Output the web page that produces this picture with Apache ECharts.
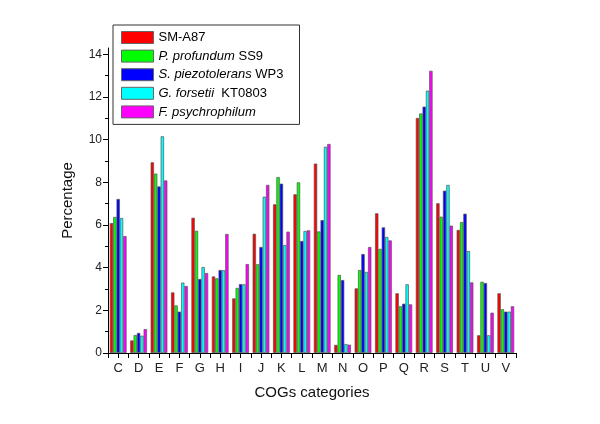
<!DOCTYPE html>
<html>
<head>
<meta charset="utf-8">
<script src="https://cdn.jsdelivr.net/npm/echarts@6/dist/echarts.min.js"></script>
<style>html,body{margin:0;padding:0;background:#fff}#c{width:600px;height:424px}</style>
</head>
<body>
<div id="c"></div>
<script>
var categories = ['C','D','E','F','G','H','I','J','K','L','M','N','O','P','Q','R','S','T','U','V'];
var seriesNames = ['SM-A87','P. profundum SS9','S. piezotolerans WP3','G. forsetii KT0803','F. psychrophilum'];
var smA87 = [6.09,0.59,8.94,2.84,6.34,3.59,2.56,5.59,6.97,7.44,8.88,0.38,3.03,6.55,2.80,11.02,7.02,5.77,0.83,2.80];
var pProfundum = [6.38,0.84,8.41,2.23,5.73,3.50,3.05,4.16,8.25,8.00,5.70,3.66,3.89,4.88,2.19,11.23,6.39,6.14,3.34,2.05];
var sPiezotolerans = [7.22,0.94,7.81,1.94,3.47,3.89,3.23,4.97,7.94,5.25,6.23,3.42,4.64,5.89,2.31,11.55,7.61,6.53,3.28,1.94];
var gForsetii = [6.33,0.81,10.16,3.30,4.03,3.88,3.22,7.33,5.06,5.72,9.67,0.42,3.80,5.44,3.22,12.30,7.88,4.78,0.83,1.94];
var fPsychrophilum = [5.48,1.12,8.09,3.14,3.75,5.58,4.17,7.88,5.69,5.75,9.80,0.39,4.97,5.28,2.28,13.23,5.97,3.31,1.89,2.19];
var yTicks = [0,2,4,6,8,10,12,14];

var values = [smA87, pProfundum, sPiezotolerans, gForsetii, fPsychrophilum];
var colors = ['#FF0000','#00FF00','#0000FF','#00FFFF','#FF00FF'];
var FONT = 'Liberation Sans, Arial, sans-serif';

var chart = echarts.init(document.getElementById('c'), null, {renderer:'canvas'});
var series = values.map(function(v, i){
  return {
    name: seriesNames[i], type: 'bar', data: v, xAxisIndex: 0,
    barGap: '0%', barCategoryGap: '18%',
    itemStyle: {color: colors[i], borderColor: '#555', borderWidth: 0.7},
    emphasis: {disabled: true}
  };
});
chart.setOption({
  animation: false,
  textStyle: {fontFamily: FONT},
  grid: {left: 108, right: 84, top: 48, bottom: 71},
  legend: {
    orient: 'vertical', left: 113, top: 25,
    itemWidth: 32, itemHeight: 12, itemGap: 5.6,
    padding: [6, 16, 6, 8],
    borderColor: '#333', borderWidth: 1,
    icon: 'rect',
    itemStyle: {borderColor: '#666', borderWidth: 1},
    data: seriesNames,
    textStyle: {
      fontFamily: FONT, fontSize: 13, color: '#000',
      rich: {i: {fontStyle: 'italic', fontFamily: FONT, fontSize: 13, color: '#000'},
             n: {fontFamily: FONT, fontSize: 13, color: '#000'}}
    },
    formatter: function(name){
      if (name === 'SM-A87') return '{n|' + name + '}';
      var parts = name.split(' ');
      var sp = parts.slice(0,2).join(' ');
      var rest = parts.slice(2).join(' ');
      if (name.indexOf('KT0803') >= 0) rest = ' ' + rest;
      return '{i|' + sp + '}' + (rest ? '{n| ' + rest + '}' : '');
    }
  },
  xAxis: [{
    type: 'category', data: categories, position: 'bottom',
    name: 'COGs categories', nameLocation: 'middle', nameGap: 32,
    nameTextStyle: {fontSize: 15, color: '#111', fontFamily: FONT},
    axisLine: {lineStyle: {color: '#000', width: 1}},
    axisTick: {show: true, length: 5, lineStyle: {color: '#000'}},
    axisLabel: {fontSize: 13, color: '#222', margin: 9, fontFamily: FONT},
    splitLine: {show: false}
  }, {
    type: 'category', data: categories, position: 'bottom',
    axisLine: {show: false},
    axisTick: {show: true, alignWithLabel: true, length: 5, lineStyle: {color: '#000'}},
    axisLabel: {show: false},
    splitLine: {show: false}
  }],
  yAxis: {
    type: 'value', min: 0, max: 14.3, interval: 2,
    name: 'Percentage', nameLocation: 'middle', nameGap: 33,
    nameTextStyle: {fontSize: 15, color: '#111', fontFamily: FONT},
    axisLine: {show: true, lineStyle: {color: '#000', width: 1}},
    axisTick: {show: true, length: 5, lineStyle: {color: '#000'}, customValues: yTicks},
    minorTick: {show: true, splitNumber: 2, length: 3, lineStyle: {color: '#000'}},
    axisLabel: {fontSize: 12, color: '#222', margin: 6, fontFamily: FONT, customValues: yTicks},
    splitLine: {show: false}
  },
  series: series
});
</script>
</body>
</html>
